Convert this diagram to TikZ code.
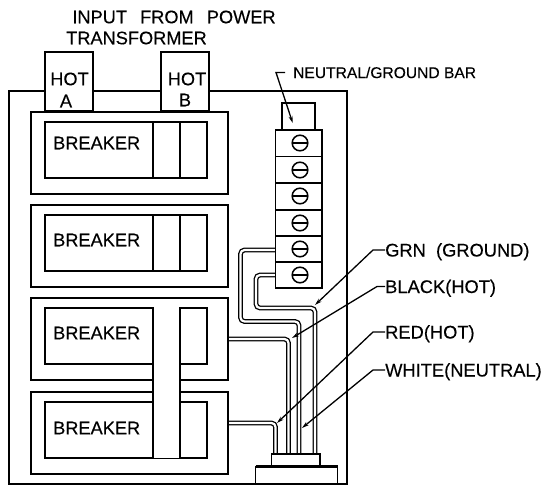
\documentclass[tikz,border=0pt]{standalone}
\usepackage{fontspec}
\setmainfont[FakeBold=0.2]{Liberation Sans}
\usetikzlibrary{arrows.meta}
\tikzset{>=stealth}
\tikzset{
    part/.style={draw, line width=1.5pt, fill=white},
    rule/.style={draw, line width=1.5pt},
    wire/.style={line width=1.3pt, draw=black, double=white, double distance=2.2pt, rounded corners=4pt},
    leader/.style={line width=1.3pt, ->, >={Stealth[length=7pt,width=4pt]}},
    biglabel/.style={inner sep=0pt, font=\fontsize{18.2}{19}\selectfont},
    sidelabel/.style={inner sep=0pt, anchor=west, text height=13pt, text depth=0pt, font=\fontsize{18.3}{19}\selectfont},
}

\begin{document}
\begin{tikzpicture}[x=1pt, y=-1pt]
    \useasboundingbox (0,0) rectangle (545,485);
    \fill[white] (0,0) rectangle (545,485);
    % enclosure
    \draw[part] (9,91) rectangle (347,484);
    % hot tabs
    \draw[part] (45,52) rectangle (93,111);
    \draw[part] (161,52) rectangle (209,111);
    \node[biglabel] (hota) at (69.5,79) {HOT};
    \node[biglabel] (hotaa) at (66,101) {A};
    \node[biglabel] (hotb) at (187,79) {HOT};
    \node[biglabel] (hotbb) at (185,100) {B};
    \node[biglabel] (inputa) at (174,17) {INPUT\ \ \,FROM\ \ \,POWER};
    \node[biglabel] (inputb) at (136.5,38) {TRANSFORMER};
    % wires
    \coordinate (termE) at (275.5,250);
    \coordinate (termF) at (275.5,275);
    \coordinate (brkC) at (228,339);
    \coordinate (brkD) at (228,423);
    \draw[wire] (termE) -- (240.5,250) -- (240.5,321.5) -- (299,321.5) -- (299,454);
    \draw[wire] (termF) -- (256,275) -- (256,308) -- (315,308) -- (315,454);
    \draw[wire] (brkC) -- (288.5,339) -- (288.5,454);
    \draw[wire] (brkD) -- (275.5,423) -- (275.5,454);
    % breakers
    \foreach \y/\t/\name in {112/31/a, 205/35/b, 298/35/c, 392/36/d}{
        \draw[part] (31,\y) rectangle (228,\y+82);
        \draw[part] (45,\y+10) rectangle (207,\y+66);
        \node[biglabel, anchor=west] (brk\name) at (53,\y+\t) {BREAKER};
    }
    \foreach \y in {112, 205}{
        \draw[rule] (153,\y+10) -- (153,\y+66);
        \draw[rule] (180,\y+10) -- (180,\y+66);
    }
    % tie bar over the two lower breakers
    \fill[white] (153,307) rectangle (180,458);
    \draw[rule] (153,307) -- (153,458);
    \draw[rule] (180,307) -- (180,458);
    % neutral/ground bar
    \draw[part] (282,103) rectangle (315,130);
    \draw[part] (275.5,130) rectangle (322,288);
    \foreach \y in {156.5, 183, 210, 236, 262}{
        \draw[rule] (275.5,\y) -- (322,\y);
    }
    \foreach \y in {143, 170, 196, 223, 249, 275}{
        \draw[line width=1.5pt] (300,\y) circle (7.8);
        \draw[line width=2.2pt] (292.2,\y) -- (307.8,\y);
    }
    % gland
    \draw[part] (271.7,454) rectangle (320,465.5);
    \draw[part] (255.7,466.5) rectangle (337.7,484);
    \draw[line width=2.6pt] (255.7,466.5) -- (337.7,466.5);
    % labels
    \node[inner sep=0pt, anchor=west, font=\fontsize{15.6}{16}\selectfont] (barlabel) at (293,72.5) {NEUTRAL/GROUND BAR};
    \node[sidelabel] (grn) at (385,250) {GRN\ \ (GROUND)};
    \node[sidelabel] (black) at (385,286.5) {BLACK(HOT)};
    \node[sidelabel] (red) at (385,332) {RED(HOT)};
    \node[sidelabel] (white) at (385,370) {WHITE(NEUTRAL)};
    \coordinate (barstart) at (285,72.5);
    \coordinate (barend) at (292.7,123);
    \coordinate (grnend) at (315,305);
    \coordinate (blackend) at (292,338);
    \coordinate (redend) at (277,423);
    \coordinate (whiteend) at (302,428);
    \draw[leader] (barstart) -- (276,72.5) -- (barend);
    \draw[leader] (grn.west) -- (373,250) -- (grnend);
    \draw[leader] (black.west) -- (377,286.5) -- (blackend);
    \draw[leader] (red.west) -- (373,332) -- (redend);
    \draw[leader] (white.west) -- (373,370) -- (whiteend);
\end{tikzpicture}
\end{document}
